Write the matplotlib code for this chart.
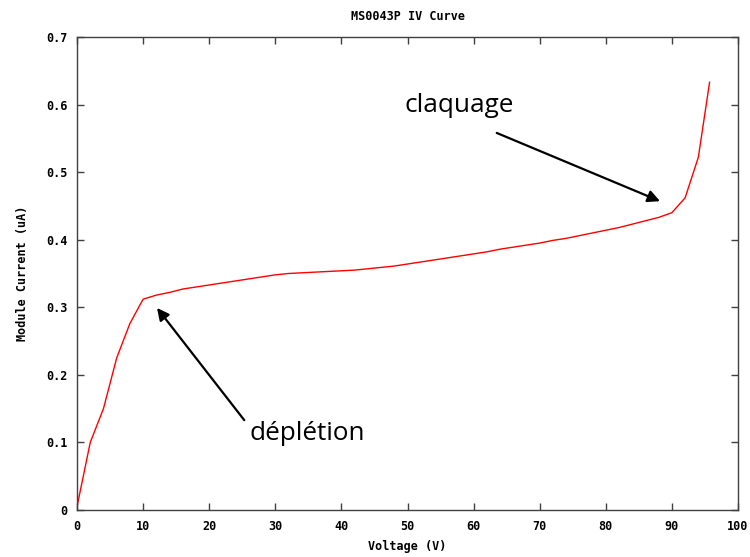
import matplotlib
matplotlib.use('Agg')
import matplotlib.pyplot as plt

# IV curve (voltage in V, current in uA)
voltage = [0, 2, 4, 6, 8, 10, 12, 14, 16, 18, 20, 22, 24, 26, 28, 30, 32, 34,
           36, 38, 40, 42, 44, 46, 48, 50, 52, 54, 56, 58, 60, 62, 64, 66, 68,
           70, 72, 74, 76, 78, 80, 82, 84, 86, 88, 90, 92, 94, 95.7]
current = [0.005, 0.100, 0.150, 0.225, 0.276, 0.312, 0.318, 0.322, 0.327,
           0.330, 0.333, 0.336, 0.339, 0.342, 0.345, 0.348, 0.350, 0.351,
           0.352, 0.353, 0.354, 0.355, 0.357, 0.359, 0.361, 0.364, 0.367,
           0.370, 0.373, 0.376, 0.379, 0.382, 0.386, 0.389, 0.392, 0.395,
           0.399, 0.402, 0.406, 0.410, 0.414, 0.418, 0.423, 0.428, 0.433,
           0.440, 0.462, 0.522, 0.633]

x_ticks = [0, 10, 20, 30, 40, 50, 60, 70, 80, 90, 100]
y_ticks = [0, 0.1, 0.2, 0.3, 0.4, 0.5, 0.6, 0.7]
y_tick_labels = ['0', '0.1', '0.2', '0.3', '0.4', '0.5', '0.6', '0.7']

MONO = dict(family='DejaVu Sans Mono', weight='bold', size=8.5)

fig = plt.figure(figsize=(7.5, 5.57), dpi=100)
ax = fig.add_axes([0.1027, 0.0844, 0.8813, 0.8492])

ax.plot(voltage, current, color='red', lw=1)

ax.set_xlim(0, 100)
ax.set_ylim(0, 0.7)
ax.set_xticks(x_ticks)
ax.set_xticklabels([str(t) for t in x_ticks], fontdict=MONO)
ax.set_yticks(y_ticks)
ax.set_yticklabels(y_tick_labels, fontdict=MONO)
ax.tick_params(direction='in', length=5, width=1, top=True, right=True,
               color='#404040', pad=7)
for s in ax.spines.values():
    s.set_color('#404040')
    s.set_linewidth(1)

ax.set_title('MS0043P IV Curve', fontdict=MONO, pad=12)
ax.set_xlabel('Voltage (V)', fontdict=MONO, labelpad=5)
ax.set_ylabel('Module Current (uA)', fontdict=MONO, labelpad=12)

arrow = dict(arrowstyle='-|>', color='black', lw=1.6, mutation_scale=18,
             shrinkA=0, shrinkB=0)
ax.annotate('', xy=(88.2, 0.457), xytext=(63.5, 0.558), arrowprops=arrow)
ax.annotate('', xy=(12.1, 0.299), xytext=(25.3, 0.133), arrowprops=arrow)
ax.text(49.5, 0.599, 'claquage', family='Open Sans', size=18.8, va='center')
ax.text(26.1, 0.113, 'déplétion', family='Open Sans', size=18.8, va='center')

fig.savefig('out.png', dpi=100)
